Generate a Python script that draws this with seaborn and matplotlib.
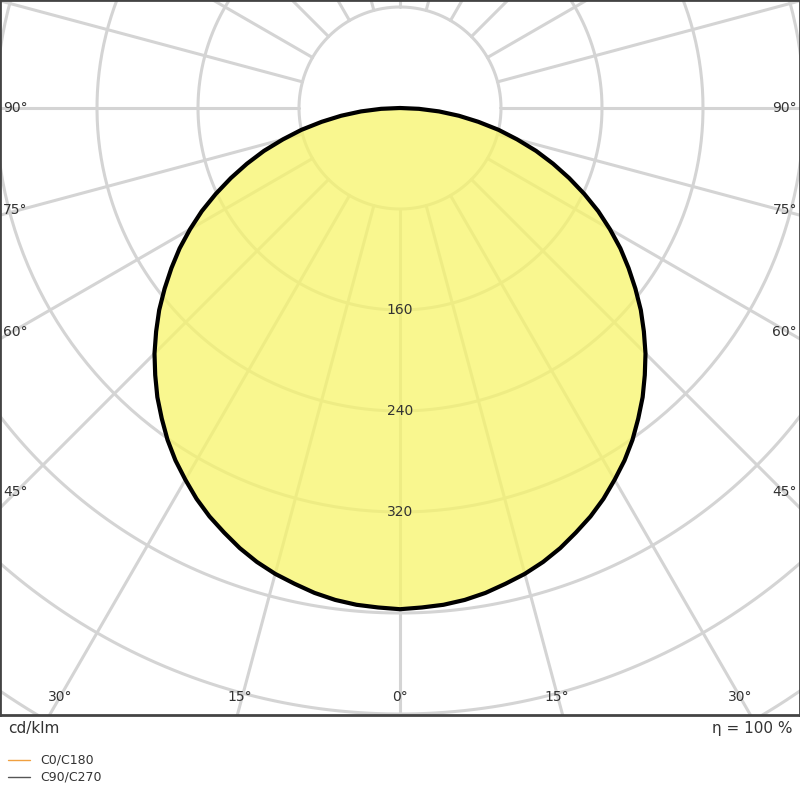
import numpy as np
import matplotlib
matplotlib.use("Agg")
import matplotlib.pyplot as plt
import seaborn as sns
import pandas as pd

angles_deg = [0, 2.5, 5, 7.5, 10, 12.5, 15, 17.5, 20, 22.5, 25, 27.5, 30, 32.5, 35, 37.5, 40, 42.5, 45,
              47.5, 50, 52.5, 55, 57.5, 60, 62.5, 65, 67.5, 70, 72.5, 75, 77.5, 80, 82.5, 85, 87.5, 90]
intensity = [397, 396, 395, 393, 390, 386, 382, 377, 371, 364, 357, 349, 340, 331, 321, 310, 299, 287, 275,
             262, 249, 235, 221, 207, 192, 177, 161, 145, 129, 113, 96, 80, 63, 47, 31, 15, 0]
ring_values = [160, 240, 320]
side_labels = ["90°", "75°", "60°", "45°"]
bottom_labels = ["30°", "15°", "0°", "15°", "30°"]

sns.set_style("white")
plt.rcParams['font.family'] = ['DejaVu Sans']
fig = plt.figure(figsize=(8, 8), dpi=100)
S = 101 / 80.0  # px per cd
ax = fig.add_axes([0, 1 - 715 / 800, 1, 715 / 800])
ax.set_xlim(-400 / S, 400 / S)
ax.set_ylim(-(715 - 108) / S, 108 / S)
ax.set_aspect('auto')
for s in ax.spines.values():
    s.set_color('#444444'); s.set_linewidth(2)
ax.set_xticks([]); ax.set_yticks([])

grid = '#d4d4d4'
t = np.linspace(0, 2 * np.pi, 400)
for r in range(80, 1200, 80):
    ax.plot(r * np.cos(t), r * np.sin(t), color=grid, lw=2.2, zorder=1)
for a in range(0, 360, 15):
    ar = np.radians(a)
    ax.plot([80 * np.cos(ar), 1200 * np.cos(ar)], [80 * np.sin(ar), 1200 * np.sin(ar)], color=grid, lw=2.2, zorder=1)

th = np.radians(np.array(angles_deg))
I = np.array(intensity)
xs = np.concatenate([-(I * np.sin(th))[::-1], (I * np.sin(th))[1:]])
ys = np.concatenate([(-I * np.cos(th))[::-1], (-I * np.cos(th))[1:]])
df = pd.DataFrame({'x': xs, 'y': ys})
ax.fill(df.x, df.y, color='#f7f56a', alpha=0.75, zorder=2, lw=0)
sns.lineplot(data=df, x='x', y='y', sort=False, estimator=None, color='black', lw=3, ax=ax, zorder=4)
ax.set_xlabel(''); ax.set_ylabel('')
for v in ring_values:
    ax.text(0, -v, str(v), ha='center', va='center', fontsize=10, color='#333333', zorder=5)

def ft(x, y, s, ha='left', **kw):
    fig.text(x / 800, 1 - y / 800, s, ha=ha, va='center', color='#333333', **kw)

for lab, y in zip(side_labels, [108, 210, 332, 492]):
    ft(3, y, lab, fontsize=10)
    ft(797, y, lab, ha='right', fontsize=10)
for lab, x in zip(bottom_labels, [60, 240, 400, 557, 740]):
    ft(x, 697, lab, ha='center', fontsize=10)
ft(8, 728, "cd/klm", fontsize=11)
ft(792, 728, "η = 100 %", ha='right', fontsize=11)
fig.add_artist(plt.Line2D([8 / 800, 30 / 800], [1 - 760 / 800] * 2, color='#f0a040', lw=1))
fig.add_artist(plt.Line2D([8 / 800, 30 / 800], [1 - 777 / 800] * 2, color='#555555', lw=1))
ft(40, 760, "C0/C180", fontsize=9)
ft(40, 777, "C90/C270", fontsize=9)
fig.savefig("out.png", dpi=100)
